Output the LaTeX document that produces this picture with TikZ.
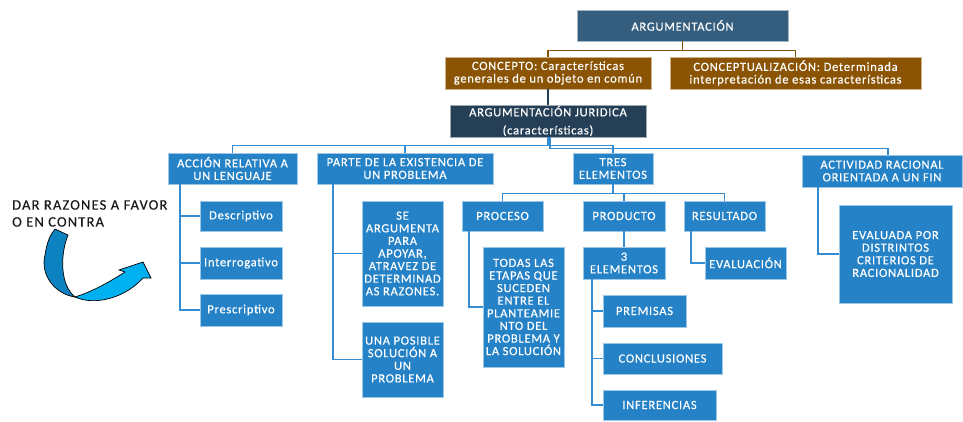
\documentclass[tikz,border=0pt]{standalone}
\usepackage{fontspec}
\setmainfont{Carlito}
\newfontfamily\bxfont{Carlito}[LetterSpace=6,FakeBold=0.4]
\newfontfamily\lblfont{Carlito}[LetterSpace=8,FakeBold=0.3]
\definecolor{argblue}{RGB}{53,94,126}
\definecolor{brownc}{RGB}{139,84,4}
\definecolor{navyc}{RGB}{37,63,87}
\definecolor{boxblue}{RGB}{38,130,199}
\definecolor{lineblue}{RGB}{52,140,210}
\definecolor{arrowdark}{RGB}{12,130,192}
\definecolor{arrowlight}{RGB}{0,176,240}
\tikzset{
  bx/.style={fill=boxblue, draw=white!55!boxblue, line width=0.6pt, text=white,
    inner sep=0pt, align=center, font=\bxfont\fontsize{12.5}{12.6}\selectfont},
  brownbx/.style={bx, fill=brownc, draw=white!55!brownc},
  conn/.style={draw=lineblue, line width=1.6pt},
  brconn/.style={draw=brownc, line width=1.5pt},
}
\begin{document}
\begin{tikzpicture}[x=1pt,y=-1pt]
\useasboundingbox[fill=white] (0,0) rectangle (963,421);

% top level
\node[bx, fill=argblue, draw=white!55!argblue, minimum width=211, minimum height=31] (arg) at (682.5,25.5) {ARGUMENTACIÓN};
\node[brownbx, minimum width=206, minimum height=32] (concepto) at (548,73) {CONCEPTO: Características\\generales de un objeto en común};
\node[brownbx, minimum width=251, minimum height=32] (conceptualizacion) at (795.5,73) {CONCEPTUALIZACIÓN: Determinada\\interpretación de esas características};
\node[bx, fill=navyc, draw=white!55!navyc, minimum width=196, minimum height=32] (jur) at (548,121) {ARGUMENTACIÓN JURIDICA\\[5.5pt](características)};

% second level
\node[bx, minimum width=129, minimum height=31] (accion) at (232.5,168.5) {ACCIÓN RELATIVA A\\UN LENGUAJE};
\node[bx, minimum width=176, minimum height=31] (parte) at (405,168.5) {PARTE DE LA EXISTENCIA DE\\UN PROBLEMA};
\node[bx, minimum width=80, minimum height=31] (tres) at (613,168.5) {TRES\\ELEMENTOS};
\node[bx, minimum width=160, minimum height=32] (act) at (882,171) {ACTIVIDAD RACIONAL\\ORIENTADA A UN FIN};

% accion children
\node[bx, minimum width=82, minimum height=30] (desc) at (241,216) {Descriptivo};
\node[bx, minimum width=82, minimum height=32] (interr) at (241,263) {Interrogativo};
\node[bx, minimum width=82, minimum height=32] (presc) at (241,310) {Prescriptivo};

% parte children
\node[bx, minimum width=81, minimum height=105] (searg) at (402.5,253.5) {SE\\ARGUMENTA\\PARA\\APOYAR,\\ATRAVEZ DE\\DETERMINAD\\AS RAZONES.};
\node[bx, minimum width=81, minimum height=75] (unapos) at (402.5,359.5) {UNA POSIBLE\\SOLUCIÓN A\\UN\\PROBLEMA};

% tres children
\node[bx, minimum width=81, minimum height=30] (proceso) at (502.5,216) {PROCESO};
\node[bx, minimum width=82, minimum height=30] (producto) at (624,216) {PRODUCTO};
\node[bx, minimum width=81, minimum height=30] (resultado) at (724.5,216) {RESULTADO};
\node[bx, minimum width=81, minimum height=120] (todas) at (523.5,307) {TODAS LAS\\ETAPAS QUE\\SUCEDEN\\ENTRE EL\\PLANTEAMIE\\NTO DEL\\PROBLEMA Y\\LA SOLUCIÓN};
\node[bx, minimum width=82, minimum height=32] (treselem) at (624,263) {3\\ELEMENTOS};
\node[bx, minimum width=81, minimum height=32] (evaluacion) at (745.5,263) {EVALUACIÓN};
\node[bx, minimum width=83, minimum height=32] (premisas) at (644.5,311) {PREMISAS};
\node[bx, minimum width=119, minimum height=31] (conclusiones) at (662.5,358.5) {CONCLUSIONES};
\node[bx, minimum width=113, minimum height=30] (inferencias) at (659.5,405) {INFERENCIAS};

% actividad child
\node[bx, minimum width=113, minimum height=98] (evaluada) at (895.5,254) {EVALUADA POR\\DISTRINTOS\\CRITERIOS DE\\RACIONALIDAD};

% side label
\node[anchor=north west, inner sep=0pt, align=left, text=black!90,
  font=\lblfont\fontsize{14.5}{17}\selectfont] (dar) at (12,200) {DAR RAZONES A FAVOR\\O EN CONTRA};

% connectors
\draw[brconn] (arg.south) -- ++(0,9) -| (concepto.north);
\draw[brconn] (arg.south) -- ++(0,9) -| (conceptualizacion.north);
\draw[draw=navyc, line width=1.5pt] (concepto.south) -- (jur.north);

\draw[conn] (jur.south) -- ++(0,8) -| (accion.north);
\draw[conn] (jur.south) -- ++(0,8) -| (parte.north);
\draw[conn] (jur.south) -- ++(0,8) -| (tres.north);
\draw[conn] ([xshift=2]jur.south) -- ++(0,11) -| ([xshift=6]act.north);

\draw[conn] ([xshift=12]accion.south west) |- (desc.west);
\draw[conn] ([xshift=12]accion.south west) |- (interr.west);
\draw[conn] ([xshift=12]accion.south west) |- (presc.west);

\draw[conn] ([xshift=16]parte.south west) |- (searg.west);
\draw[conn] ([xshift=16]parte.south west) |- (unapos.west);

\draw[conn] (tres.south) -- ++(0,9) -| (proceso.north);
\draw[conn] (tres.south) -- ++(0,9) -| (producto.north);
\draw[conn] (tres.south) -- ++(0,9) -| (resultado.north);

\draw[conn] ([xshift=7]proceso.south west) |- (todas.west);
\draw[conn] (producto.south) -- (treselem.north);
\draw[conn] ([xshift=7]resultado.south west) |- (evaluacion.west);

\draw[conn] ([xshift=9]treselem.south west) |- (premisas.west);
\draw[conn] ([xshift=9]treselem.south west) |- (conclusiones.west);
\draw[conn] ([xshift=9]treselem.south west) |- (inferencias.west);

\draw[conn] ([xshift=16]act.south west) |- (evaluada.west);

% curved arrow
\filldraw[fill=arrowdark, draw=black, line width=0.7pt]
  (55,229) -- (68,235) .. controls (60,255) and (60,285) .. (75,297)
  .. controls (55,294) and (40,275) .. (45,255)
  .. controls (47,242) and (50,235) .. (55,229) -- cycle;
\filldraw[fill=arrowlight, draw=black, line width=0.7pt]
  (75,297) .. controls (95,306) and (125,298) .. (143,278)
  -- (151,278) -- (143,262) -- (119,270) -- (125,272)
  .. controls (105,285) and (88,293) .. (75,297) -- cycle;
\end{tikzpicture}
\end{document}
